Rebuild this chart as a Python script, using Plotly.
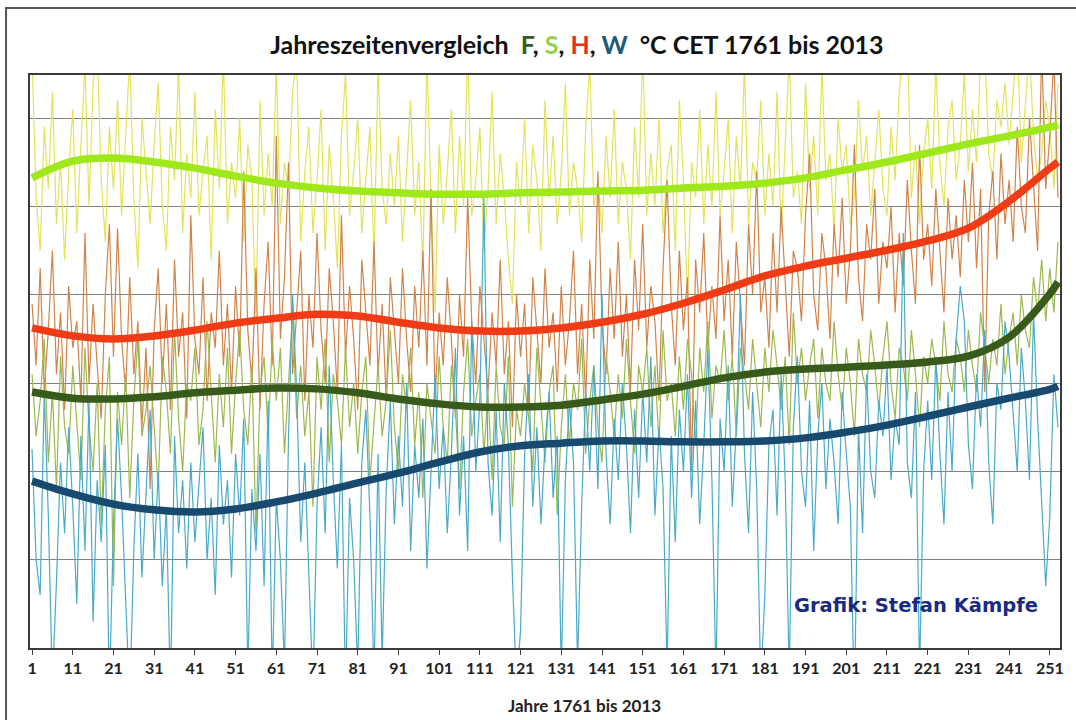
import plotly.graph_objects as go

# ---------------- data (chart units; gridline every 2 units) -------------
years = list(range(1, 254))           # 1 = 1761 ... 253 = 2013
tick_vals = list(range(1, 252, 10))
tick_text = [str(v) for v in tick_vals]

# Sommer (S) yearly values
summer = [
    13.4, 10.2, 9.0, 11.8, 10.4, 12.6, 9.6, 11.0, 8.8, 10.8,
    12.2, 9.4, 11.4, 13.2, 10.0, 12.8, 13.6, 10.6, 9.2, 11.8,
    10.4, 12.4, 9.8, 11.6, 13.4, 10.2, 8.6, 12.0, 10.8, 9.6,
    11.4, 12.8, 10.0, 9.0, 11.8, 10.6, 13.2, 9.4, 11.2, 10.2,
    12.6, 9.8, 10.8, 11.6, 8.8, 12.2, 10.4, 13.4, 9.6, 11.0,
    10.2, 12.0, 9.2, 11.4, 10.6, 7.4, 12.4, 9.8, 11.2, 10.0,
    13.2, 9.6, 11.0, 10.4, 12.6, 13.4, 9.2, 10.8, 11.8, 9.4,
    10.6, 12.2, 9.0, 11.4, 10.2, 8.6, 11.6, 13.0, 9.8, 10.8,
    12.0, 9.4, 10.6, 11.8, 8.8, 13.2, 10.4, 9.6, 11.2, 10.0,
    11.6, 9.2, 10.8, 12.4, 9.8, 11.0, 8.6, 13.4, 10.2, 7.6,
    11.4, 9.6, 10.8, 12.2, 9.4, 11.6, 10.0, 13.6, 9.8, 10.6,
    11.8, 9.0, 10.4, 12.6, 9.6, 11.2, 10.2, 8.8, 7.8, 11.0,
    10.0, 12.0, 9.4, 11.4, 10.6, 9.0, 12.4, 10.2, 11.6, 9.6,
    10.8, 12.8, 9.8, 11.0, 10.4, 9.2, 11.8, 13.2, 10.0, 10.6,
    9.4, 11.6, 10.2, 12.2, 9.6, 11.0, 10.4, 8.8, 11.8, 10.2,
    13.6, 9.8, 11.2, 10.0, 12.0, 9.4, 10.8, 11.4, 9.0, 12.4,
    10.6, 7.8, 11.0, 10.2, 12.2, 9.6, 11.4, 10.0, 12.6, 9.8,
    10.8, 12.0, 9.4, 11.6, 10.4, 13.2, 9.6, 11.0, 10.6, 12.4,
    9.8, 11.2, 10.0, 12.6, 9.4, 11.4, 13.4, 10.2, 10.8, 9.6,
    12.8, 10.4, 11.6, 9.8, 13.2, 10.6, 11.2, 9.4, 12.0, 10.8,
    11.4, 9.6, 10.2, 12.4, 10.8, 11.6, 9.8, 11.0, 12.2, 10.4,
    9.8, 11.8, 10.6, 12.6, 13.6, 13.8, 10.2, 11.4, 9.6, 11.2,
    12.0, 10.4, 13.2, 11.0, 10.0, 11.8, 12.4, 10.6, 11.4, 13.0,
    10.8, 12.2, 11.0, 13.4, 13.6, 11.2, 10.6, 12.4, 11.8, 12.8,
    11.4, 12.6, 13.8, 11.0, 12.2, 13.6, 11.6, 10.6, 11.2, 12.4,
    11.8, 10.4, 12.8,
]

# Herbst (H) yearly values
autumn = [
    7.8, 6.4, 8.6, 5.8, 7.2, 9.0, 6.2, 7.6, 5.4, 8.2,
    6.8, 7.4, 5.6, 9.4, 6.0, 7.8, 6.4, 5.2, 8.0, 9.6,
    6.6, 9.5, 7.0, 5.8, 8.4, 6.2, 7.4, 5.0, 6.8, 3.6,
    7.2, 8.6, 6.0, 7.8, 5.4, 8.8, 6.6, 7.6, 5.2, 9.8,
    7.0, 6.2, 8.4, 5.6, 7.6, 6.8, 9.0, 6.4, 7.8, 5.8,
    8.2, 6.6, 10.8, 7.2, 6.0, 8.6, 5.4, 7.8, 9.2, 6.4,
    11.6, 7.0, 8.4, 11.0, 6.2, 7.6, 9.0, 5.6, 8.0, 6.8,
    9.4, 7.2, 6.0, 8.6, 7.4, 5.8, 9.8, 6.6, 8.2, 7.0,
    5.4, 8.8, 7.6, 6.4, 9.2, 6.2, 7.8, 5.6, 8.4, 7.2,
    6.0, 8.6, 7.0, 5.8, 8.2, 6.8, 9.0, 6.4, 10.4, 5.6,
    7.6, 6.4, 8.4, 7.0, 5.2, 8.0, 6.6, 10.2, 7.4, 6.0,
    8.2, 7.0, 5.8, 7.6, 6.4, 8.8, 6.2, 7.4, 5.0, 8.0,
    6.6, 7.8, 5.4, 8.4, 7.2, 6.0, 8.6, 6.8, 7.6, 5.8,
    8.2, 6.4, 7.4, 9.0, 6.2, 7.8, 5.6, 8.8, 7.0, 10.8,
    7.4, 6.2, 8.6, 7.0, 9.2, 6.6, 8.0, 5.8, 8.8, 7.2,
    9.6, 6.8, 8.2, 7.4, 5.6, 8.6, 10.6, 7.8, 6.4, 9.0,
    7.2, 8.4, 4.0, 8.8, 7.6, 9.4, 6.8, 8.2, 7.0, 9.8,
    7.4, 8.8, 6.6, 9.2, 7.8, 6.4, 9.6, 8.0, 10.8, 7.6,
    8.4, 6.8, 9.4, 7.6, 10.0, 8.2, 6.6, 9.0, 8.6, 7.4,
    9.8, 11.2, 8.0, 7.2, 9.4, 8.6, 7.0, 9.6, 8.4, 10.2,
    7.8, 9.0, 11.4, 8.4, 7.4, 9.6, 8.8, 10.4, 7.8, 9.2,
    8.6, 10.0, 7.6, 9.4, 8.2, 10.6, 9.0, 7.8, 11.4, 8.8,
    9.6, 8.2, 10.4, 9.0, 7.6, 10.2, 8.8, 9.8, 8.4, 10.6,
    9.2, 11.0, 8.6, 10.4, 5.8, 9.8, 10.8, 8.8, 11.2, 9.6,
    10.6, 9.2, 11.8, 10.0, 9.4, 12.0, 10.6, 9.0, 13.6, 10.4,
    11.6, 13.4, 10.2,
]

# Frühling (F) yearly values
spring = [
    6.2, 4.8, 5.6, 7.0, 4.2, 5.8, 3.6, 6.6, 5.0, 4.4,
    6.4, 5.2, 3.8, 6.8, 5.0, 4.0, 6.0, 2.8, 5.4, 6.6,
    1.4, 5.8, 4.6, 6.2, 3.4, 5.6, 7.0, 4.8, 5.4, 6.4,
    5.0, 3.6, 6.6, 5.8, 4.4, 7.2, 5.2, 4.0, 6.0, 5.6,
    6.8, 4.6, 5.4, 7.4, 5.8, 4.2, 6.2, 5.0, 6.8, 4.4,
    6.0, 7.2, 5.4, 4.6, 6.4, 2.6, 5.8, 6.6, 4.8, 7.0,
    5.6, 6.8, 4.4, 6.0, 7.6, 5.2, 6.4, 4.8, 5.8, 3.2,
    6.6, 5.4, 7.0, 4.2, 6.2, 5.6, 4.6, 6.8, 5.0, 6.0,
    4.4, 5.8, 6.6, 3.8, 5.2, 6.4, 4.8, 5.6, 7.2, 5.0,
    4.0, 6.2, 5.4, 6.8, 4.6, 5.8, 3.4, 6.0, 5.2, 4.4,
    6.6, 5.0, 4.2, 6.4, 5.4, 3.6, 5.8, 7.0, 4.8, 5.6,
    6.2, 4.4, 5.8, 3.8, 6.4, 5.0, 4.6, 6.6, 3.2, 5.4,
    4.8, 6.0, 5.2, 4.0, 6.8, 5.6, 4.2, 5.8, 6.4, 3.0,
    5.0, 6.2, 4.6, 6.0, 5.4, 7.0, 4.4, 5.6, 6.4, 5.0,
    4.2, 6.6, 5.8, 4.8, 6.2, 5.2, 7.0, 5.6, 4.4, 6.4,
    5.8, 6.8, 5.0, 6.4, 4.6, 7.2, 5.6, 6.0, 4.8, 6.6,
    5.4, 7.0, 6.2, 4.6, 6.8, 5.8, 7.4, 5.2, 6.4, 6.0,
    7.2, 5.6, 6.6, 4.8, 6.8, 6.2, 5.4, 7.0, 6.0, 5.0,
    6.8, 5.8, 7.2, 6.4, 5.4, 6.6, 4.6, 7.6, 6.0, 6.8,
    5.6, 6.4, 7.0, 5.2, 6.8, 6.0, 5.6, 7.4, 6.2, 5.4,
    6.8, 6.0, 4.8, 7.0, 6.2, 5.8, 7.2, 6.4, 5.4, 6.6,
    7.4, 6.0, 5.2, 6.8, 6.4, 5.6, 7.2, 6.2, 5.0, 6.6,
    6.0, 7.0, 6.4, 5.6, 7.4, 6.2, 5.8, 7.0, 6.6, 5.8,
    7.2, 6.4, 5.8, 7.6, 6.8, 6.0, 7.0, 6.4, 7.8, 6.2,
    7.0, 7.6, 6.4, 8.0, 7.2, 6.8, 8.4, 7.6, 8.8, 7.4,
    8.6, 7.6, 9.2,
]

# Winter (W) yearly values (values below 0 run off the bottom of the chart)
winter = [
    4.5, 2.0, 1.2, 5.8, 3.0, -0.8, 1.5, 4.2, 2.6, 5.0,
    3.2, 1.0, 4.8, 2.2, 5.6, 0.6, 3.8, 2.4, 4.6, -1.0,
    2.8, 5.2, 3.4, 0.8, -1.2, 2.2, 4.4, 1.6, 3.6, 5.4,
    2.0, 4.0, 1.4, 3.2, -1.1, 4.8, 2.6, 3.8, 1.8, 4.2,
    2.4, 3.6, 5.0, 2.0, 3.4, 1.2, 4.6, 2.8, 3.8, 1.6,
    4.4, 3.0, 5.2, -0.6, 3.6, 2.2, 4.4, 1.4, 5.6, -0.8,
    3.4, 2.0, -0.4, 4.8, 8.0, 5.8, 2.4, 4.2, 1.6, -0.9,
    3.2, 5.0, 2.6, 6.4, 3.8, 1.8, 4.6, -1.0, 3.4, 2.0,
    -0.5, 4.2, 5.4, 3.0, -0.7, 4.4, -0.3, 3.6, 5.6, 2.8,
    4.8, 3.2, 6.0, 2.2, 4.6, 3.4, 5.2, 1.8, 4.0, 6.2,
    3.6, 5.0, 2.6, 4.4, 6.8, 3.0, 4.8, 2.2, 7.4, 4.0,
    5.6, 10.2, 4.2, 3.0, 5.4, 2.4, 6.0, 4.6, 1.6, -0.8,
    0.4, 4.4, 6.2, 3.2, 5.0, 2.8, 4.6, 5.8, 3.4, 4.8,
    -0.6, 3.8, 5.6, 4.2, -0.4, 3.2, 5.8, 4.0, 6.4, 3.6,
    8.0, 4.4, 2.8, 5.2, 3.8, 6.0, 4.6, 2.6, 5.4, 3.4,
    5.8, 4.2, 6.6, 3.0, 5.0, 3.6, -0.5, 4.8, 2.4, 5.4,
    4.0, 6.2, 3.4, 5.6, 2.8, 4.6, 6.8, 3.8, -0.7, 5.2,
    4.0, 6.4, 3.2, 5.0, 8.0, 4.4, 2.6, 5.8, 3.6, -0.8,
    1.2, 4.6, 5.4, 3.0, 6.2, 3.8, -0.6, 5.0, 6.6, 4.0,
    3.2, 5.6, 2.2, 4.8, 6.0, 3.6, 5.2, 4.2, 2.8, 5.8,
    4.4, 3.2, -1.4, 5.0, 2.6, 6.2, 4.0, 3.4, 5.6, 4.8,
    6.4, 3.8, 5.2, 4.6, 9.4, 4.2, 3.4, 5.8, -0.6, 4.0,
    5.6, 3.8, 6.6, 4.4, 2.8, 5.8, 4.0, 7.0, 8.2, 7.4,
    4.6, 3.6, 6.2, 5.0, 7.2, 4.2, 2.8, 6.0, 5.4, 7.4,
    6.6, 5.2, 4.0, 6.8, 5.6, 3.8, 7.6, 5.2, 3.4, 1.4,
    3.0, 6.2, 5.0,
]

# smoothed trend curves, read at every 10th year (+ last year)
trend_x = [1, 11, 21, 31, 41, 51, 61, 71, 81, 91, 101, 111, 121, 131, 141,
           151, 161, 171, 181, 191, 201, 211, 221, 231, 241, 251, 253]
trend_summer = [10.65, 11.03, 11.10, 11.01, 10.87, 10.69, 10.53, 10.42, 10.35, 10.31,
                10.28, 10.28, 10.31, 10.33, 10.35, 10.37, 10.42, 10.46, 10.53, 10.65,
                10.83, 11.01, 11.21, 11.42, 11.60, 11.80, 11.85]
trend_autumn = [7.25, 7.07, 7.00, 7.07, 7.20, 7.36, 7.47, 7.56, 7.52, 7.38,
                7.25, 7.18, 7.18, 7.25, 7.38, 7.56, 7.81, 8.11, 8.43, 8.65,
                8.83, 9.01, 9.22, 9.51, 10.12, 10.87, 11.01]
trend_spring = [5.80, 5.66, 5.64, 5.69, 5.78, 5.84, 5.89, 5.87, 5.78, 5.64,
                5.53, 5.46, 5.46, 5.50, 5.62, 5.75, 5.93, 6.12, 6.25, 6.32,
                6.36, 6.41, 6.48, 6.61, 7.04, 8.02, 8.29]
trend_winter = [3.78, 3.49, 3.26, 3.13, 3.08, 3.15, 3.31, 3.51, 3.74, 3.96,
                4.21, 4.44, 4.58, 4.64, 4.69, 4.69, 4.67, 4.67, 4.69, 4.76,
                4.89, 5.05, 5.25, 5.46, 5.66, 5.86, 5.93]

# ---------------- figure ----------------
fig = go.Figure()

thin = [
    ("Sommer", summer, "#e2e35a"),
    ("Herbst", autumn, "#d0844a"),
    ("Frühling", spring, "#9cb84e"),
    ("Winter", winter, "#4aabc8"),
]
for name, vals, col in thin:
    fig.add_trace(go.Scatter(x=years, y=vals, mode="lines", name=name,
                             line=dict(color=col, width=1.2), showlegend=False))

thick = [
    ("Sommer Trend", trend_summer, "#9ee81c"),
    ("Herbst Trend", trend_autumn, "#f03c16"),
    ("Frühling Trend", trend_spring, "#385a1a"),
    ("Winter Trend", trend_winter, "#184a70"),
]
for name, vals, col in thick:
    fig.add_trace(go.Scatter(x=trend_x, y=vals, mode="lines", name=name,
                             line=dict(color=col, width=7.5, shape="spline", smoothing=1.0),
                             showlegend=False))

title_text = ("Jahreszeitenvergleich&nbsp;&nbsp;<span style='color:#3a5a1a'>F</span>, "
              "<span style='color:#92d050'>S</span>, "
              "<span style='color:#e8301a'>H</span>, "
              "<span style='color:#1f5b78'>W</span>&nbsp;&nbsp;°C CET 1761 bis 2013")

L, R, T, B = 30, 14, 75, 72
W, H = 1076, 720
pw, ph = W - L - R, H - T - B

def px(xp):
    return (xp - L) / pw

def py(yp):
    return (H - B - yp) / ph

fig.update_layout(
    width=W, height=H,
    margin=dict(l=L, r=R, t=T, b=B),
    paper_bgcolor="white", plot_bgcolor="white",
    hovermode=False,
    title=dict(text=title_text, x=px(578), xref="paper", xanchor="center",
               y=1 - 45 / H, yref="container", yanchor="middle",
               font=dict(family="Lato", size=25, color="#111111", weight="bold")),
    xaxis=dict(range=[0.5, 253.5], tickmode="array", tickvals=tick_vals, ticktext=tick_text,
               ticks="outside", ticklen=5, tickcolor="#404040", tickwidth=1,
               showgrid=False, zeroline=False,
               showline=True, linecolor="#3a3a3a", linewidth=2, mirror=True,
               tickfont=dict(family="Lato", size=16, color="#222222", weight="bold")),
    yaxis=dict(range=[0, 12.98], tick0=0, dtick=2, showticklabels=False, ticks="",
               showgrid=True, gridcolor="#808080", gridwidth=1, zeroline=False,
               showline=True, linecolor="#3a3a3a", linewidth=2, mirror=True),
    annotations=[
        dict(text="Jahre 1761 bis 2013", x=px(586), y=py(705), xref="paper", yref="paper",
             xanchor="center", yanchor="middle", showarrow=False,
             font=dict(family="Lato", size=17, color="#222222", weight="bold")),
        dict(text="Grafik: Stefan Kämpfe", x=px(793), y=py(605), xref="paper", yref="paper",
             xanchor="left", yanchor="middle", showarrow=False,
             font=dict(family="DejaVu Sans", size=19.5, color="#1a2a80", weight="bold")),
    ],
    shapes=[
        dict(type="rect", xref="paper", yref="paper",
             x0=px(6), x1=px(1090), y0=py(740), y1=py(8),
             line=dict(color="#555555", width=2), fillcolor="rgba(0,0,0,0)", layer="above"),
    ],
)

fig.write_html("out.html", config={"displayModeBar": False, "staticPlot": True},
               post_script="document.body.style.margin='0px';")
